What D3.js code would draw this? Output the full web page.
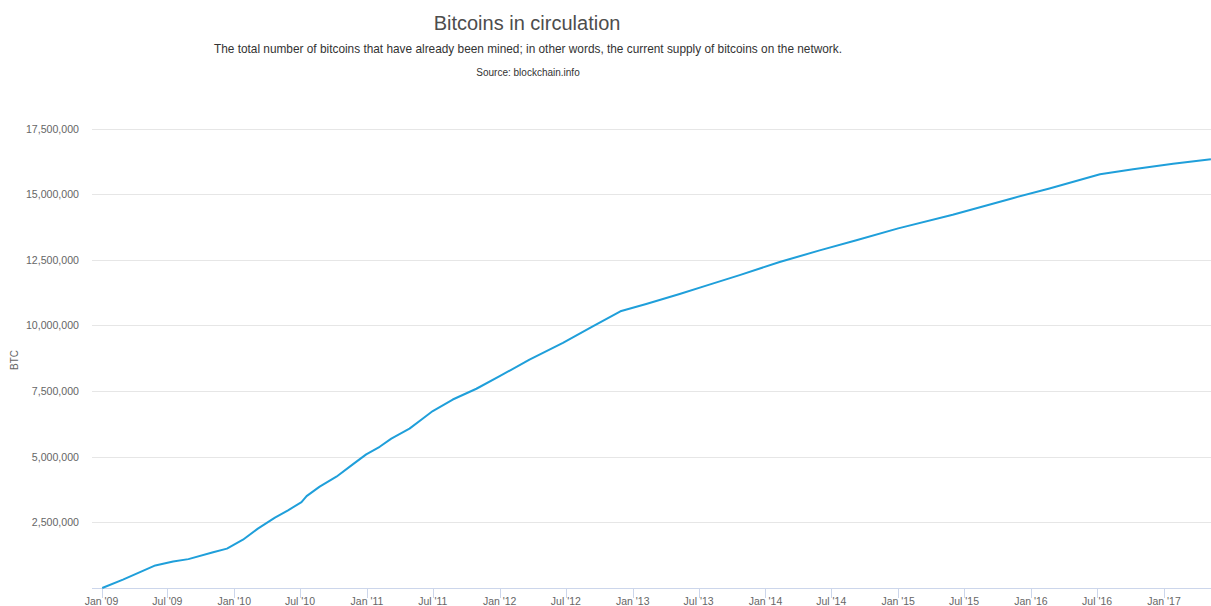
<!DOCTYPE html>
<meta charset="utf-8">
<script src="https://cdn.jsdelivr.net/npm/d3@7"></script>
<style>
  body { margin: 0; background: #fff; font-family: "Liberation Sans", Arial, sans-serif; }
  .grid line { stroke: #e6e6e6; stroke-width: 1; }
  .axis text { fill: #666; font-size: 11px; }
</style>
<body>
<div id="viz"></div>
<script>
// readings (supply in millions of BTC)
var dates = ["2009-01-03","2009-03-01","2009-05-29","2009-07-17","2009-08-28","2009-11-04",
  "2009-12-12","2010-01-25","2010-03-07","2010-04-23","2010-05-29","2010-07-05","2010-07-19",
  "2010-08-24","2010-10-09","2010-11-23","2010-12-30","2011-02-05","2011-03-09","2011-04-28",
  "2011-06-03","2011-07-01","2011-08-25","2011-10-29","2012-01-01","2012-03-23","2012-06-23",
  "2012-09-13","2012-11-28","2013-02-07","2013-05-10","2013-07-22","2013-10-22","2014-02-09",
  "2014-05-30","2014-09-08","2015-01-01","2015-05-31","2015-11-12","2016-02-21","2016-07-09",
  "2016-10-08","2017-01-26","2017-05-10"];
var supply = [0, 0.32, 0.86, 1.01, 1.10, 1.36,
  1.50, 1.84, 2.26, 2.68, 2.96, 3.27, 3.50,
  3.86, 4.24, 4.71, 5.09, 5.38, 5.69, 6.07,
  6.45, 6.74, 7.18, 7.59, 8.07, 8.70, 9.34,
  9.97, 10.54, 10.82, 11.20, 11.52, 11.92, 12.42,
  12.86, 13.25, 13.70, 14.22, 14.85, 15.22, 15.76,
  15.95, 16.16, 16.33];
var yTicks = [2500000, 5000000, 7500000, 10000000, 12500000, 15000000, 17500000];
var xTicks = ["2009-01-01","2009-07-01","2010-01-01","2010-07-01","2011-01-01","2011-07-01",
  "2012-01-01","2012-07-01","2013-01-01","2013-07-01","2014-01-01","2014-07-01","2015-01-01",
  "2015-07-01","2016-01-01","2016-07-01","2017-01-01"];

var width = 1211, height = 606;
var left = 92, right = 1211, bottom = 588;

var parse = d3.utcParse("%Y-%m-%d");
var data = dates.map(function(d, i) { return { date: parse(d), value: supply[i] * 1e6 }; });

var x = d3.scaleUtc()
  .domain([parse("2009-01-01"), parse("2017-01-01")])
  .range([101.5, 1164]);
var y = d3.scaleLinear().domain([0, 17500000]).range([bottom, 128.6]);

var svg = d3.select("#viz").append("svg")
  .attr("width", width)
  .attr("height", height);

// titles
svg.append("text").attr("x", 527).attr("y", 29.5).attr("text-anchor", "middle")
  .style("font-size", "20px").style("fill", "#4d4d4d")
  .text("Bitcoins in circulation");
svg.append("text").attr("x", 528).attr("y", 53).attr("text-anchor", "middle")
  .style("font-size", "11.85px").style("fill", "#333")
  .text("The total number of bitcoins that have already been mined; in other words, the current supply of bitcoins on the network.");
svg.append("text").attr("x", 528).attr("y", 75.5).attr("text-anchor", "middle")
  .style("font-size", "10px").style("fill", "#333")
  .text("Source: blockchain.info");

// y gridlines + labels
var yAxis = svg.append("g").attr("class", "axis grid");
yAxis.selectAll("line").data(yTicks).enter().append("line")
  .attr("x1", left).attr("x2", right)
  .attr("y1", function(d) { return Math.round(y(d)) + 0.5; })
  .attr("y2", function(d) { return Math.round(y(d)) + 0.5; });
yAxis.selectAll("text").data(yTicks).enter().append("text")
  .attr("x", 79).attr("y", function(d) { return y(d) + 4; })
  .attr("text-anchor", "end")
  .style("font-size", "10.6px")
  .text(d3.format(","));

svg.append("text")
  .attr("transform", "translate(18," + 360 + ") rotate(-90)")
  .attr("text-anchor", "middle")
  .style("font-size", "10px").style("fill", "#666")
  .text("BTC");

// x axis
var xAxis = svg.append("g").attr("class", "axis");
xAxis.append("line")
  .attr("x1", left).attr("x2", right)
  .attr("y1", bottom + 0.5).attr("y2", bottom + 0.5)
  .attr("stroke", "#ccd6eb");
var fmt = d3.utcFormat("%b '%y");
var tickDates = xTicks.map(parse);
xAxis.selectAll(".tick").data(tickDates).enter().append("line")
  .attr("x1", function(d) { return Math.round(x(d)) + 0.5; })
  .attr("x2", function(d) { return Math.round(x(d)) + 0.5; })
  .attr("y1", bottom).attr("y2", bottom + 10)
  .attr("stroke", "#ccd6eb");
xAxis.selectAll("text").data(tickDates).enter().append("text")
  .attr("x", function(d) { return x(d); })
  .attr("y", 605)
  .attr("text-anchor", "middle")
  .style("font-size", "10.5px")
  .text(function(d) { return fmt(d); });

// the line
var line = d3.line()
  .x(function(d) { return x(d.date); })
  .y(function(d) { return y(d.value); });

svg.append("path")
  .datum(data)
  .attr("fill", "none")
  .attr("stroke", "#1f9fda")
  .attr("stroke-width", 2)
  .attr("stroke-linejoin", "round")
  .attr("d", line);
</script>
